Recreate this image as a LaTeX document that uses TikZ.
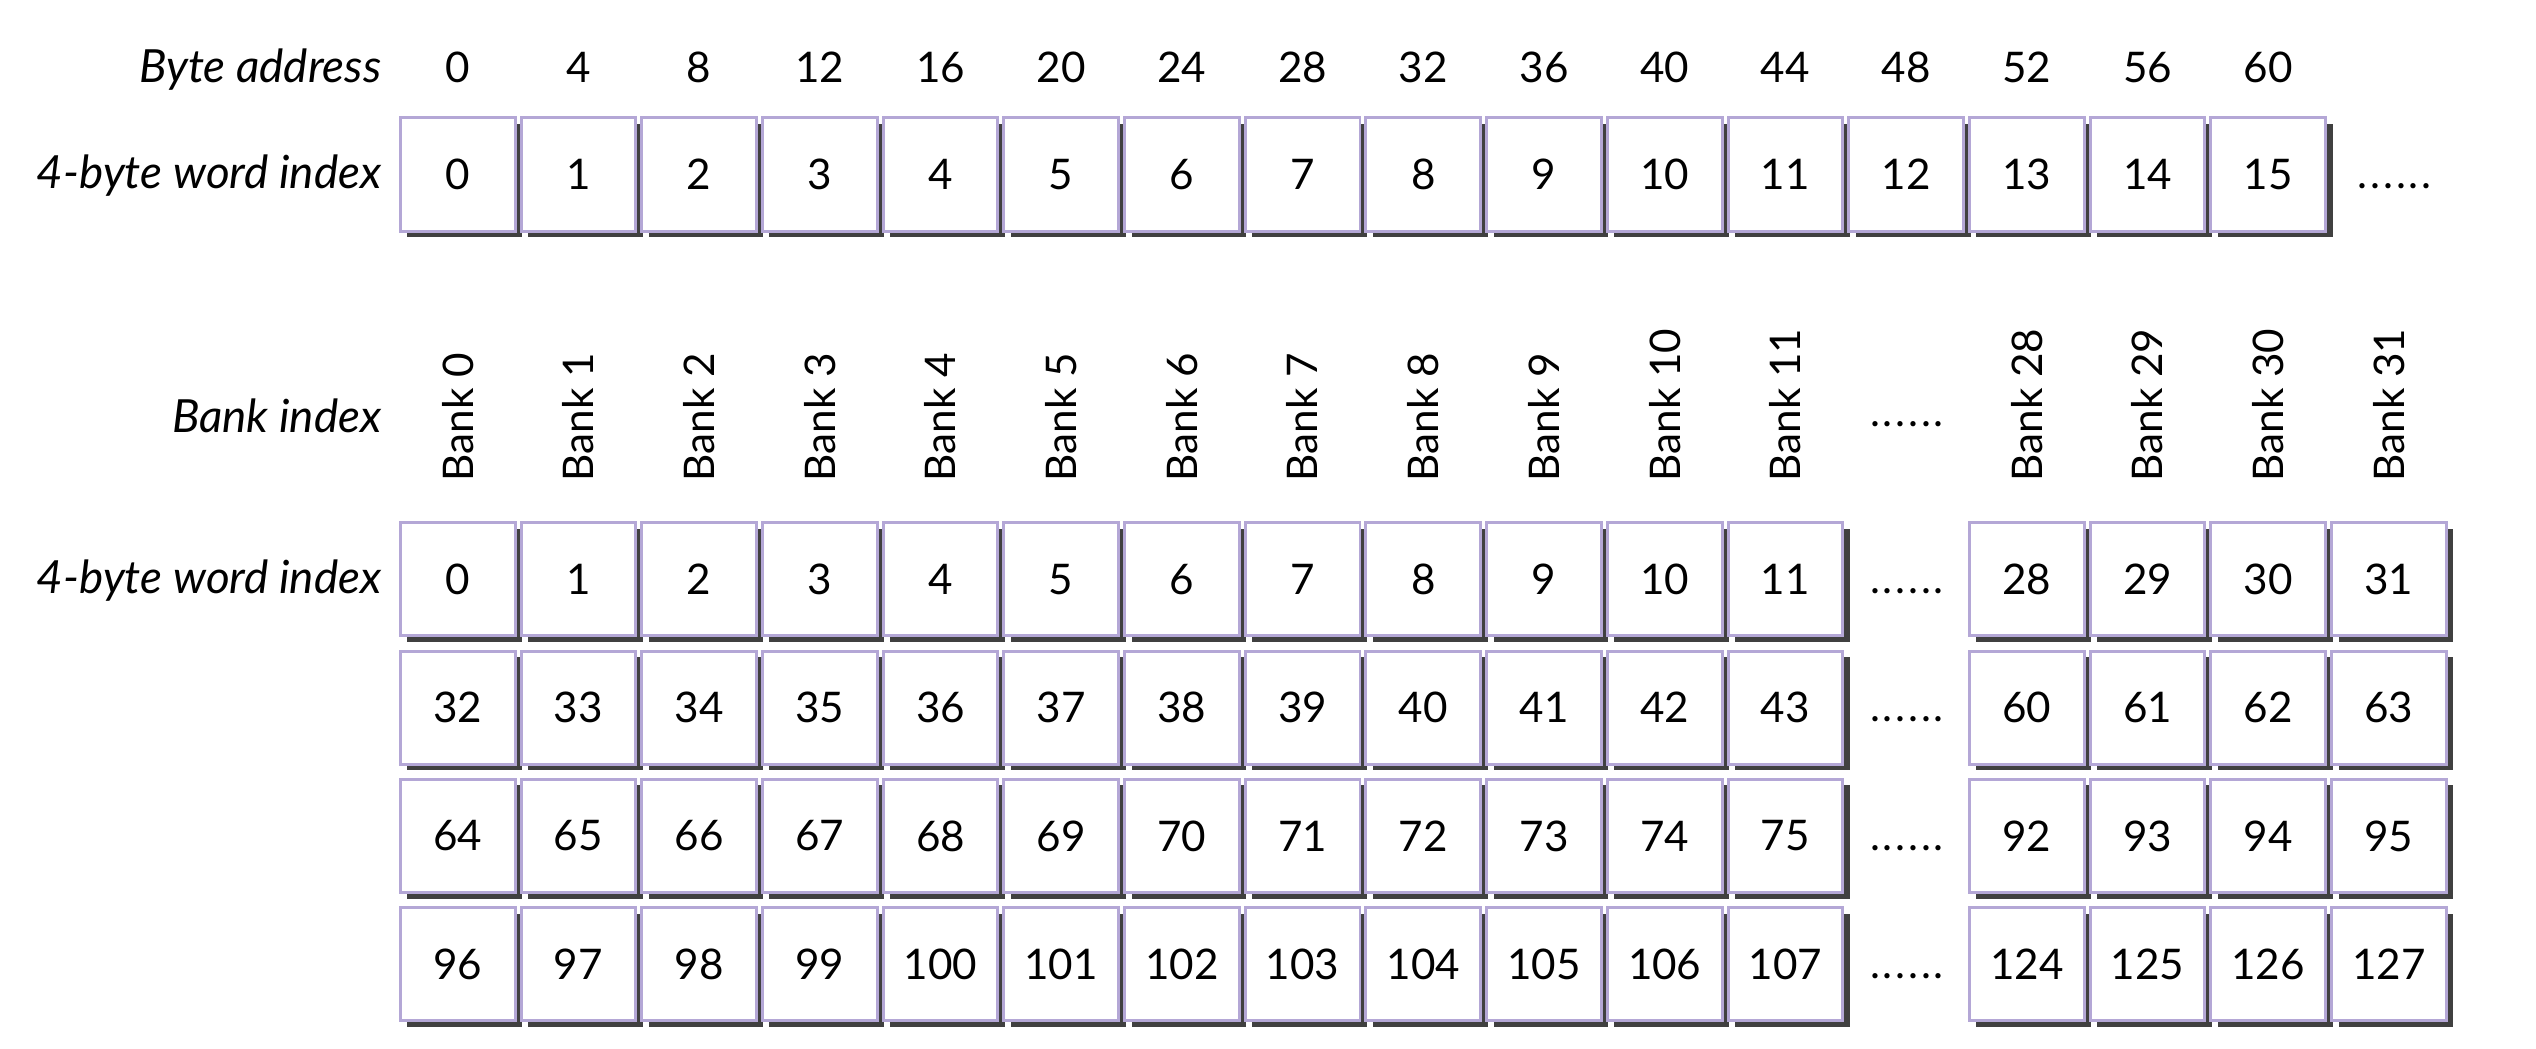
\documentclass[tikz,border=0pt]{standalone}
\usepackage{fontspec}
\setmainfont{Lato}
\usetikzlibrary{shadows}
\definecolor{lilac}{HTML}{B4A7D6}
\definecolor{shade}{HTML}{404040}
\newcommand{\moredots}{.\kern0.8pt.\kern0.8pt.\kern0.8pt.\kern0.8pt.\kern0.8pt.}

\begin{document}
\begin{tikzpicture}[x=0.01cm,y=-0.01cm,
   cell/.style={draw=lilac,line width=0.85pt,fill=white,inner sep=0pt,
     minimum width=1.147cm,minimum height=1.13cm,font=\fontsize{12}{14}\selectfont,
     drop shadow={shadow xshift=0.07cm,shadow yshift=-0.06cm,fill=shade,opacity=1}},
   lbl/.style={anchor=base east,inner sep=0pt,font=\fontsize{13}{15}\selectfont\itshape},
   num/.style={anchor=base,inner sep=0pt,font=\fontsize{12}{14}\selectfont},
   bank/.style={rotate=90,anchor=west,inner sep=0pt,font=\fontsize{12}{14}\selectfont}]
  \useasboundingbox (0,0) rectangle (2536,1048);
  % row labels
  \node[lbl] (lba) at (382,82) {Byte address};
  \node[lbl] (lwa) at (382,188) {4-byte word index};
  \node[lbl] (lbk) at (382,432) {Bank index};
  \node[lbl] (lwb) at (382,593) {4-byte word index};
  % linear view
  \foreach \c [evaluate=\c as \b using int(4*\c)] in {0,...,15} {
    \node[num] (a\c) at ({457.7+120.7*\c},82) {\b};
    \node[cell] (w\c) at ({457.7+120.7*\c},174.5) {\c};
  }
  \node[num,anchor=base west] (wmore) at (2357,188.5) {\moredots};
  % banked view
  \foreach \c in {0,...,11}
    \node[bank] (bk\c) at ({457.7+120.7*\c},482) {Bank \c};
  \foreach \c [evaluate=\c as \k using int(\c+15)] in {13,...,16}
    \node[bank] (bk\k) at ({457.7+120.7*\c},482) {Bank \k};
  \node[num] (bkmore) at (1907,426) {\moredots};
  \foreach \r in {0,...,3} {
    \foreach \c [evaluate=\c as \v using int(32*\r+\c)] in {0,...,11}
      \node[cell] (m\r-\c) at ({457.7+120.7*\c},{579.2+128.4*\r}) {\v};
    \node[num] (more\r) at (1907,{593.2+128.4*\r}) {\moredots};
    \foreach \c [evaluate=\c as \v using int(32*\r+\c+15)] in {13,...,16}
      \node[cell] (m\r-\c) at ({457.7+120.7*\c},{579.2+128.4*\r}) {\v};
  }
\end{tikzpicture}
\end{document}
